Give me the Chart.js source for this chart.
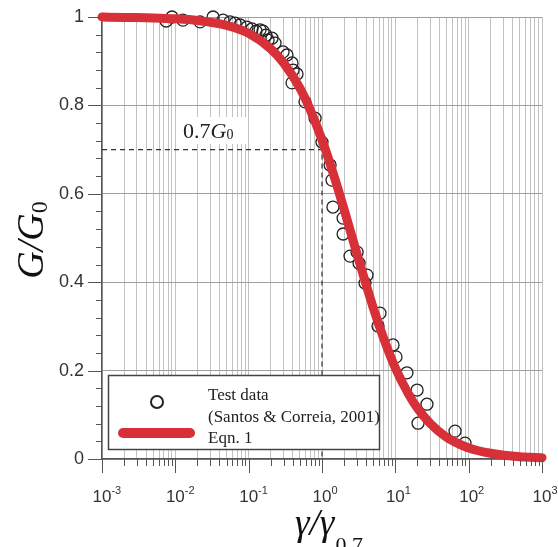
<!DOCTYPE html>
<html>
<head>
<meta charset="utf-8">
<script src="https://cdn.jsdelivr.net/npm/chart.js@4/dist/chart.umd.min.js"></script>
<style>
  html, body { margin: 0; padding: 0; background: #fff; }
  #wrap { width: 558px; height: 547px; }
</style>
</head>
<body>
<div id="wrap"><canvas id="c" width="558" height="547"></canvas></div>
<script>
// Normalised shear strain γ/γ0.7 and stiffness ratio G/G0 along the Eqn. 1 curve
const curveStrain = [0.001, 0.002, 0.005, 0.01, 0.02, 0.05, 0.1, 0.2, 0.3, 0.5, 0.7, 1, 1.5, 2, 3, 5, 7, 10, 15, 20, 30, 50, 70, 100, 200, 500, 1000];
const curveModulus = [1.0, 0.999, 0.998, 0.996, 0.992, 0.981, 0.963, 0.928, 0.896, 0.839, 0.788, 0.722, 0.634, 0.565, 0.464, 0.342, 0.271, 0.206, 0.148, 0.115, 0.080, 0.049, 0.036, 0.025, 0.013, 0.005, 0.003];

// Test data (Santos & Correia, 2001)
const testStrain = [0.0075, 0.0090, 0.0127, 0.0217, 0.0327, 0.0447, 0.0557, 0.0652, 0.0762, 0.0948, 0.111, 0.126, 0.143, 0.157, 0.172, 0.184, 0.208, 0.229, 0.294, 0.333, 0.390, 0.403, 0.456, 0.390, 0.586, 0.804, 1.00, 1.29, 1.37, 1.41, 1.94, 1.94, 2.41, 3.01, 3.20, 4.11, 3.86, 6.18, 5.81, 9.30, 10.2, 14.4, 19.8, 27.0, 20.4, 65.2, 89.1];
const testModulus = [0.991, 1.0, 0.993, 0.989, 1.0, 0.993, 0.989, 0.986, 0.982, 0.977, 0.973, 0.968, 0.971, 0.968, 0.959, 0.948, 0.952, 0.941, 0.921, 0.914, 0.896, 0.880, 0.871, 0.851, 0.808, 0.771, 0.717, 0.665, 0.631, 0.570, 0.545, 0.509, 0.459, 0.468, 0.443, 0.416, 0.398, 0.330, 0.301, 0.258, 0.231, 0.195, 0.156, 0.124, 0.081, 0.063, 0.036];

// Axis ticks
const xDecades = [-3, -2, -1, 0, 1, 2, 3];
const yTickValues = [0, 0.2, 0.4, 0.6, 0.8, 1];
const yMinorStep = 0.04;

// Reference point marked on the chart
const refStrain = 1;
const refModulus = 0.7;

const legendLabels = ['Test data', '(Santos & Correia, 2001)', 'Eqn. 1'];

const RED = 'rgb(216,48,56)';
const SANS = '"Liberation Sans", Arial, sans-serif';
const SERIF = '"Liberation Serif", "Times New Roman", serif';

function isDecade(v) {
  const l = Math.log10(v);
  return Math.abs(l - Math.round(l)) < 1e-9;
}

// All 1..9 × 10^k positions between the first and last decade
function logTickValues() {
  const out = [];
  for (let i = 0; i < xDecades.length - 1; i++) {
    const base = Math.pow(10, xDecades[i]);
    for (let m = 1; m <= 9; m++) out.push(+(m * base).toPrecision(6));
  }
  out.push(Math.pow(10, xDecades[xDecades.length - 1]));
  return out;
}

const overlay = {
  id: 'overlay',
  beforeDatasetsDraw(chart) {
    const { ctx, chartArea: a, scales: { x, y } } = chart;
    const px = x.getPixelForValue(refStrain);
    const py = y.getPixelForValue(refModulus);
    ctx.save();
    // label backing
    ctx.fillStyle = '#fff';
    ctx.fillRect(180, 117, 68, 27);
    // dashed reference lines
    ctx.strokeStyle = '#333';
    ctx.lineWidth = 1.2;
    ctx.setLineDash([5, 4]);
    ctx.beginPath();
    ctx.moveTo(a.left, py);
    ctx.lineTo(px, py);
    ctx.lineTo(px, a.bottom);
    ctx.stroke();
    ctx.setLineDash([]);
    // 0.7G0 label
    ctx.fillStyle = '#222';
    ctx.textBaseline = 'alphabetic';
    ctx.textAlign = 'left';
    let tx = 183;
    const ty = 138;
    ctx.font = '22px ' + SERIF;
    const num = refModulus.toFixed(1);
    ctx.fillText(num, tx, ty);
    tx += ctx.measureText(num).width;
    ctx.font = 'italic 22px ' + SERIF;
    ctx.fillText('G', tx, ty);
    tx += ctx.measureText('G').width;
    ctx.font = '14px ' + SERIF;
    ctx.fillText('0', tx, ty + 1);
    ctx.restore();
  },
  afterDatasetsDraw(chart) {
    const { ctx, chartArea: a, scales: { x, y } } = chart;
    ctx.save();
    // tick marks
    ctx.strokeStyle = '#555';
    ctx.lineWidth = 1;
    ctx.beginPath();
    x.ticks.forEach(t => {
      const p = Math.round(x.getPixelForValue(t.value)) + 0.5;
      const len = isDecade(t.value) ? 14 : 7;
      ctx.moveTo(p, a.bottom);
      ctx.lineTo(p, a.bottom + len);
    });
    const nMinor = Math.round((y.max - y.min) / yMinorStep);
    for (let i = 0; i <= nMinor; i++) {
      const v = y.min + i * yMinorStep;
      const p = Math.round(y.getPixelForValue(v)) + 0.5;
      const major = Math.abs(v / 0.2 - Math.round(v / 0.2)) < 1e-6;
      ctx.moveTo(a.left, p);
      ctx.lineTo(a.left - (major ? 14 : 6), p);
    }
    ctx.stroke();

    // x tick labels 10^k
    ctx.fillStyle = '#333';
    ctx.textBaseline = 'alphabetic';
    x.ticks.forEach(t => {
      if (!isDecade(t.value)) return;
      const k = Math.round(Math.log10(t.value));
      const p = x.getPixelForValue(t.value);
      ctx.font = '17px ' + SANS;
      ctx.textAlign = 'center';
      ctx.fillText('10', p, 502);
      const w = ctx.measureText('10').width;
      ctx.font = '11px ' + SANS;
      ctx.textAlign = 'left';
      ctx.fillText(k < 0 ? '-' + (-k) : String(k), p + w / 2, 494);
    });

    // x title: γ/γ0.7
    ctx.fillStyle = '#111';
    ctx.textAlign = 'left';
    ctx.font = 'italic 37px ' + SERIF;
    let tx = 295;
    const ty = 535;
    ctx.fillText('γ/γ', tx, ty);
    tx += ctx.measureText('γ/γ').width;
    ctx.font = '22px ' + SERIF;
    ctx.fillText('0.7', tx + 1, ty + 17);

    // y title: G/G0 (rotated)
    ctx.save();
    ctx.translate(43, 240);
    ctx.rotate(-Math.PI / 2);
    ctx.font = 'italic 38px ' + SERIF;
    const main = 'G/G';
    const mw = ctx.measureText(main).width;
    ctx.font = '24px ' + SERIF;
    const sw = ctx.measureText('0').width;
    let sx = -(mw + sw) / 2;
    ctx.font = 'italic 38px ' + SERIF;
    ctx.fillText(main, sx, 0);
    ctx.font = '24px ' + SERIF;
    ctx.fillText('0', sx + mw, 4);
    ctx.restore();

    // legend
    ctx.fillStyle = '#fff';
    ctx.fillRect(108, 375, 271, 74);
    ctx.strokeStyle = '#444';
    ctx.lineWidth = 1.5;
    ctx.strokeRect(108.5, 375.5, 271, 74);
    ctx.beginPath();
    ctx.arc(157, 402, 6, 0, Math.PI * 2);
    ctx.strokeStyle = '#222';
    ctx.lineWidth = 2;
    ctx.stroke();
    ctx.beginPath();
    ctx.moveTo(123, 433);
    ctx.lineTo(190, 433);
    ctx.strokeStyle = RED;
    ctx.lineWidth = 10;
    ctx.lineCap = 'round';
    ctx.stroke();
    ctx.fillStyle = '#222';
    ctx.font = '17px ' + SERIF;
    ctx.textAlign = 'left';
    ctx.fillText(legendLabels[0], 208, 400);
    ctx.fillText(legendLabels[1], 208, 422);
    ctx.fillText(legendLabels[2], 208, 443);
    ctx.restore();
  }
};

new Chart(document.getElementById('c'), {
  type: 'line',
  data: {
    datasets: [
      {
        label: 'Eqn. 1',
        data: curveStrain.map((v, i) => ({ x: v, y: curveModulus[i] })),
        borderColor: RED,
        borderWidth: 9,
        borderCapStyle: 'round',
        pointRadius: 0,
        cubicInterpolationMode: 'monotone',
        fill: false,
        clip: false,
        order: 0
      },
      {
        label: 'Test data',
        data: testStrain.map((v, i) => ({ x: v, y: testModulus[i] })),
        showLine: false,
        pointStyle: 'circle',
        pointRadius: 6,
        pointBorderWidth: 1.3,
        pointBorderColor: '#222',
        pointBackgroundColor: 'rgba(0,0,0,0)',
        clip: false,
        order: 1
      }
    ]
  },
  options: {
    responsive: false,
    animation: false,
    layout: { padding: { top: 17, right: 16, left: 0, bottom: 0 } },
    plugins: { legend: { display: false }, tooltip: { enabled: false } },
    scales: {
      x: {
        type: 'logarithmic',
        min: Math.pow(10, xDecades[0]),
        max: Math.pow(10, xDecades[xDecades.length - 1]),
        afterBuildTicks: s => { s.ticks = logTickValues().map(v => ({ value: v })); },
        afterFit: s => { s.height = 88; s.paddingLeft = 0; s.paddingRight = 0; },
        ticks: { display: false },
        grid: { color: '#c2c2c2', lineWidth: 1, drawTicks: false },
        border: { display: true, color: '#555', width: 1.5 }
      },
      y: {
        type: 'linear',
        min: 0,
        max: 1,
        afterBuildTicks: s => { s.ticks = yTickValues.map(v => ({ value: v })); },
        afterFit: s => { s.width = 102; s.paddingTop = 0; s.paddingBottom = 0; },
        ticks: {
          padding: 18,
          color: '#333',
          font: { family: SANS, size: 18 },
          callback: v => String(+v.toFixed(1))
        },
        grid: { color: '#9e9e9e', lineWidth: 1, drawTicks: false },
        border: { display: true, color: '#555', width: 1.5 }
      }
    }
  },
  plugins: [overlay]
});
</script>
</body>
</html>
